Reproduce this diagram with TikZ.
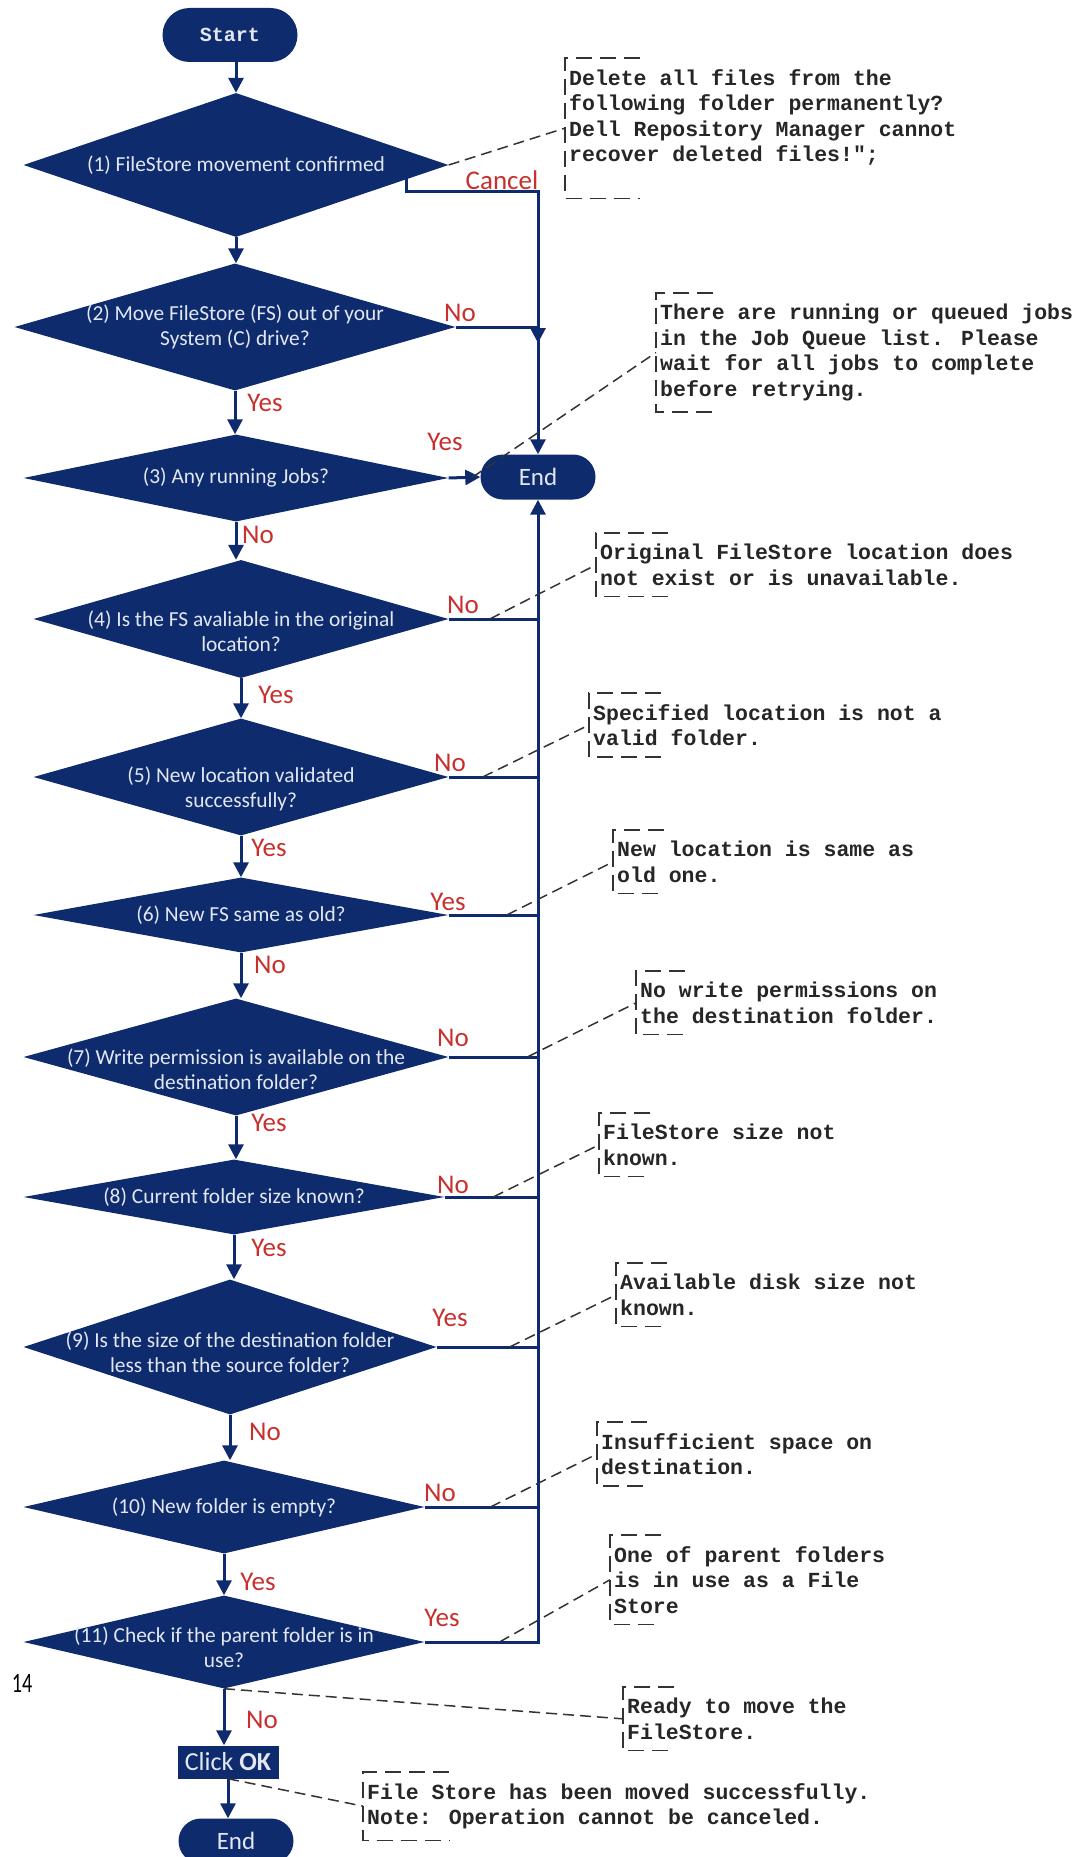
\documentclass[tikz,border=0pt]{standalone}
\usepackage{fontspec}
\usepackage{graphicx}
\setmainfont{Carlito}
\newfontfamily\notefont{Liberation Mono}
\usetikzlibrary{shapes.geometric,shapes.misc,arrows.meta,calc}
\definecolor{navy}{RGB}{14,43,110}
\definecolor{paletext}{RGB}{226,231,242}
\definecolor{ansred}{RGB}{200,48,45}
\tikzstyle{decision}=[diamond, fill=navy, draw=none, inner sep=0pt]
\tikzstyle{dtext}=[text=paletext, font=\fontsize{21.4}{25}\selectfont, align=center, inner sep=0pt]
\tikzstyle{terminal}=[rounded rectangle, fill=navy, text=paletext, inner sep=0pt, font=\fontsize{25}{25}\selectfont]
\tikzstyle{action}=[rectangle, fill=navy, text=paletext, inner sep=0pt, font=\fontsize{26}{26}\selectfont]
\tikzstyle{flow}=[draw=navy, line width=3pt, -{Triangle[length=15pt,width=15pt]}]
\tikzstyle{branch}=[draw=navy, line width=3pt]
\tikzstyle{answer}=[text=ansred, font=\fontsize{27}{30}\selectfont, inner sep=0pt]
\tikzstyle{note}=[text=black!85, font=\notefont\bfseries\fontsize{21.5}{25.5}\selectfont, align=left, anchor=north west, inner xsep=4pt, inner ysep=11pt]
\tikzstyle{leader}=[draw=black!80, line width=1.5pt, dash pattern=on 11pt off 6pt]
\tikzstyle{bracketline}=[draw=black!80, line width=1.3pt, dash pattern=on 16pt off 8pt]
\newcommand{\notebracket}[2]{\draw[bracketline] ([xshift=#2pt]#1.north west) -- (#1.north west) -- (#1.south west) -- ([xshift=#2pt]#1.south west);}

\begin{document}
\begin{tikzpicture}[x=1pt, y=-1pt]
  \useasboundingbox (0,0) rectangle (1074,1857);

  % terminals and decisions
  \node[terminal, minimum width=135pt, minimum height=54pt, font=\notefont\bfseries\fontsize{20}{20}\selectfont] (start) at (230,35) {Start};
  \node[decision, minimum width=425pt, minimum height=144pt, label={[dtext]center:{(1) FileStore movement confirmed}}] (d1) at (236,165) {};
  \node[decision, minimum width=441pt, minimum height=127pt, label={[dtext]center:{(2) Move FileStore (FS) out of your\\System (C) drive?}}] (d2) at (235,327) {};
  \node[decision, minimum width=425pt, minimum height=87pt, label={[dtext]center:{(3) Any running Jobs?}}] (d3) at (236,478) {};
  \node[decision, minimum width=415pt, minimum height=118pt, label={[dtext, yshift=-12pt]center:{(4) Is the FS avaliable in the original\\location?}}] (d4) at (241,619) {};
  \node[decision, minimum width=415pt, minimum height=117pt, label={[dtext, yshift=-12pt]center:{(5) New location validated\\successfully?}}] (d5) at (241,777) {};
  \node[decision, minimum width=415pt, minimum height=75pt, label={[dtext]center:{(6) New FS same as old?}}] (d6) at (241,915) {};
  \node[decision, minimum width=425pt, minimum height=117pt, label={[dtext, yshift=-12pt]center:{(7) Write permission is available on the\\destination folder?}}] (d7) at (236,1057) {};
  \node[decision, minimum width=421pt, minimum height=75pt, label={[dtext]center:{(8) Current folder size known?}}] (d8) at (234,1197) {};
  \node[decision, minimum width=413pt, minimum height=135pt, label={[dtext, yshift=-5pt]center:{(9) Is the size of the destination folder\\less than the source folder?}}] (d9) at (230,1347) {};
  \node[decision, minimum width=401pt, minimum height=93pt, label={[dtext]center:{(10) New folder is empty?}}] (d10) at (224,1507) {};
  \node[decision, minimum width=401pt, minimum height=93pt, label={[dtext, yshift=-5pt]center:{(11) Check if the parent folder is in\\use?}}] (d11) at (224,1642) {};
  \node[action, minimum width=101pt, minimum height=33pt] (ok) at (228,1762) {Click \textbf{OK}};
  \node[terminal, minimum width=115pt, minimum height=45pt] (end1) at (538,477) {End};
  \node[terminal, minimum width=115pt, minimum height=45pt] (end2) at (236,1841) {End};

  % main flow
  \draw[flow] (d1.north |- start.south) -- (d1.north);
  \draw[flow] (d1.south) -- (d1.south |- d2.north);
  \draw[flow] (d2.south) -- (d2.south |- d3.north);
  \draw[flow] (d3.south) -- (d3.south |- d4.north);
  \draw[flow] (d4.south) -- (d4.south |- d5.north);
  \draw[flow] (d5.south) -- (d5.south |- d6.north);
  \draw[flow] (d6.south) -- (d6.south |- d7.north);
  \draw[flow] (d7.south) -- (d7.south |- d8.north);
  \draw[flow] (d8.south) -- (d8.south |- d9.north);
  \draw[flow] (d9.south) -- (d9.south |- d10.north);
  \draw[flow] (d10.south) -- (d10.south |- d11.north);
  \draw[flow] (d11.south) -- (d11.south |- ok.north);
  \draw[flow] (ok.south) -- (ok.south |- end2.north);

  % exits to End
  \draw[flow] ($(d1.east)!0.2!(d1.south)$) -- ++(0,12) -| (end1.north);
  \draw[flow] (d2.east) -| ($(d2.east -| end1)+(0,16)$);
  \draw[flow] (d3.east) -- coordinate[pos=0.75] (l3) (end1.west);
  \draw[branch] (d4.east) -- coordinate[pos=0.46] (l4) (d4.east -| end1);
  \draw[branch] (d5.east) -- coordinate[pos=0.38] (l5) (d5.east -| end1);
  \draw[branch] (d6.east) -- coordinate[pos=0.65] (l6) (d6.east -| end1);
  \draw[branch] (d7.east) -- coordinate[pos=0.88] (l7) (d7.east -| end1);
  \draw[branch] (d8.east) -- coordinate[pos=0.52] (l8) (d8.east -| end1);
  \draw[branch] (d9.east) -- coordinate[pos=0.72] (l9) (d9.east -| end1);
  \draw[branch] (d10.east) -- coordinate[pos=0.58] (l10) (d10.east -| end1);
  \draw[flow] (d11.east) -- coordinate[pos=0.66] (l11) (d11.east -| end1) -- (end1.south);

  % answers
  \node[answer] (ans1) at (502,180) {Cancel};
  \node[answer] (ans2) at (460,313) {No};
  \node[answer] (ans2y) at (265,403) {Yes};
  \node[answer] (ans3) at (445,442) {Yes};
  \node[answer] (ans3n) at (258,535) {No};
  \node[answer] (ans4) at (463,605) {No};
  \node[answer] (ans4y) at (276,695) {Yes};
  \node[answer] (ans5) at (450,763) {No};
  \node[answer] (ans5y) at (269,848) {Yes};
  \node[answer] (ans6) at (448,902) {Yes};
  \node[answer] (ans6n) at (270,965) {No};
  \node[answer] (ans7) at (453,1038) {No};
  \node[answer] (ans7y) at (269,1123) {Yes};
  \node[answer] (ans8) at (453,1185) {No};
  \node[answer] (ans8y) at (269,1248) {Yes};
  \node[answer] (ans9) at (450,1318) {Yes};
  \node[answer] (ans9n) at (265,1432) {No};
  \node[answer] (ans10) at (440,1493) {No};
  \node[answer] (ans10y) at (258,1582) {Yes};
  \node[answer] (ans11) at (442,1618) {Yes};
  \node[answer] (ans11n) at (262,1720) {No};

  % messages
  \node[note] (n1) at (565,58) {Delete all files from the\\following folder permanently?\\Dell Repository Manager cannot\\recover deleted files!";\\\mbox{}};
  \node[note] (n3) at (656,293) {There are running or queued jobs\\in the Job Queue list. Please\\wait for all jobs to complete\\before retrying.};
  \node[note] (n4) at (596,533) {Original FileStore location does\\not exist or is unavailable.};
  \node[note] (n5) at (589,693) {Specified location is not a\\valid folder.};
  \node[note] (n6) at (613,830) {New location is same as\\old one.};
  \node[note] (n7) at (636,971) {No write permissions on\\the destination folder.};
  \node[note] (n8) at (599,1113) {FileStore size not\\known.};
  \node[note] (n9) at (616,1263) {Available disk size not\\known.};
  \node[note] (n10) at (597,1422) {Insufficient space on\\destination.};
  \node[note] (n11) at (610,1535) {One of parent folders\\is in use as a File\\Store};
  \node[note] (nready) at (623,1687) {Ready to move the\\FileStore.};
  \node[note] (nok) at (363,1772) {File Store has been moved successfully.\\Note: Operation cannot be canceled.};
  \notebracket{n1}{75}
  \notebracket{n3}{57}
  \notebracket{n4}{72}
  \notebracket{n5}{72}
  \notebracket{n6}{51}
  \notebracket{n7}{49}
  \notebracket{n8}{51}
  \notebracket{n9}{51}
  \notebracket{n10}{50}
  \notebracket{n11}{51}
  \notebracket{nready}{51}
  \notebracket{nok}{86}

  % leaders
  \draw[leader] (d1.east) -- (n1.west);
  \draw[leader] (l3) -- (n3.west);
  \draw[leader] (l4) -- (n4.west);
  \draw[leader] (l5) -- (n5.west);
  \draw[leader] (l6) -- (n6.west);
  \draw[leader] (l7) -- (n7.west);
  \draw[leader] (l8) -- (n8.west);
  \draw[leader] (l9) -- (n9.west);
  \draw[leader] (l10) -- (n10.west);
  \draw[leader] (l11) -- (n11.west);
  \draw[leader] (d11.south) -- (nready.west);
  \draw[leader] (ok.south) -- (nok.west);

  \node[font=\fontsize{28}{28}\selectfont, inner sep=0pt] (pagenum) at (22,1683) {\scalebox{0.72}[1]{14}};
\end{tikzpicture}
\end{document}
